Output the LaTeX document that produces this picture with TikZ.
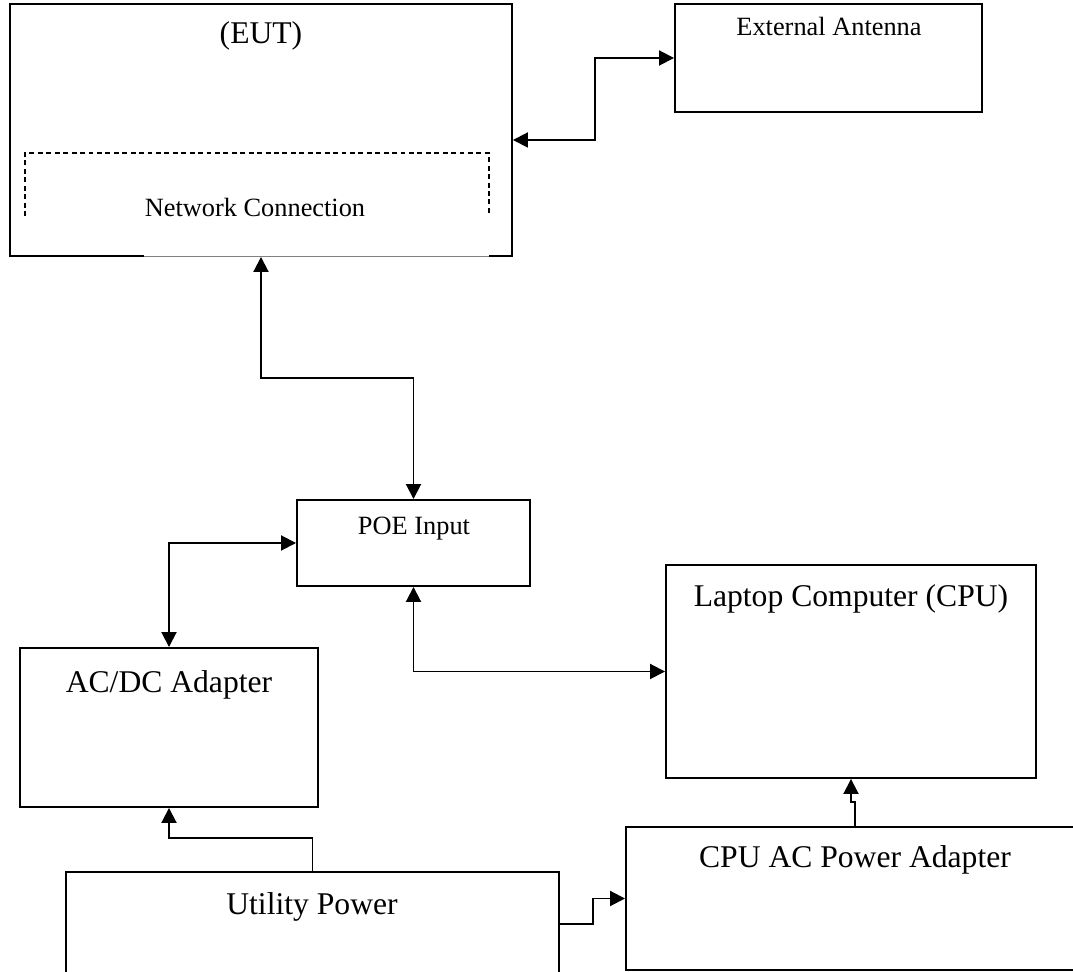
\documentclass[tikz,border=0pt]{standalone}
\usepackage{fontspec}
\setmainfont{Liberation Serif}
\usetikzlibrary{arrows.meta,fit}

\begin{document}
\begin{tikzpicture}[x=0.02cm, y=-0.02cm,
  device/.style={draw, line width=1.1pt, inner sep=0pt},
  link/.style={line width=1.1pt, {Triangle[length=0.3cm,width=0.3cm]}-{Triangle[length=0.3cm,width=0.3cm]}},
  feed/.style={line width=1.1pt, -{Triangle[length=0.3cm,width=0.3cm]}},
  bigtext/.style={anchor=base, font=\fontsize{18}{21}\selectfont},
  smalltext/.style={anchor=base, font=\fontsize{15}{18}\selectfont}]
\useasboundingbox (0,0) rectangle (1073,972);
\clip (0,0) rectangle (1073,972);

% Boxes
\node[device, fit={(10,4) (512,256)}] (eut) {};
\node[device, fit={(675,4) (982,112)}] (ant) {};
\node[device, fit={(297,500) (530,586)}] (poe) {};
\node[device, fit={(666,565) (1036,778)}] (laptop) {};
\node[device, fit={(20,648) (318,807)}] (acdc) {};
\node[device, fit={(626,827) (1084,970)}] (cpuad) {};
\node[device, fit={(66,872) (559,976)}] (util) {};

% EUT bottom edge and network connection frame
\draw[white, line width=1.6pt] (144,256) -- (489,256);
\draw[gray, line width=0.5pt] (144,256) -- (489,256);
\draw[dashed, line width=0.8pt, dash pattern=on 2.8pt off 2pt] (25,216) -- (25,153) -- (489,153) -- (489,216);

% Labels
\node[bigtext] at (261,44) {(EUT)};
\node[smalltext] at (829,36) {External Antenna};
\node[smalltext] at (255,217) {Network Connection};
\node[smalltext] at (414,535) {POE Input};
\node[bigtext] at (851,607) {Laptop Computer (CPU)};
\node[bigtext] at (169,693) {AC/DC Adapter};
\node[bigtext] at (855,868) {CPU AC Power Adapter};
\node[bigtext] at (312,915) {Utility Power};

% Connections
\draw[link] ([yshift=-0.2cm]eut.east) -- ++(82,0) |- (ant.west);
\draw[link] (eut.south) -- ++(0,121) -| (poe.north);
\draw[link] (poe.west) -| (acdc.north);
\draw[link] (poe.south) |- (laptop.west);
\draw[feed] (util.north) -- ++(0,-33) -| (acdc.south);
\draw[feed] (util.east) -- ++(33,0) |- (cpuad.west);
\draw[feed] (cpuad.north) -- ++(0,-24) -| (laptop.south);

\end{tikzpicture}
\end{document}
